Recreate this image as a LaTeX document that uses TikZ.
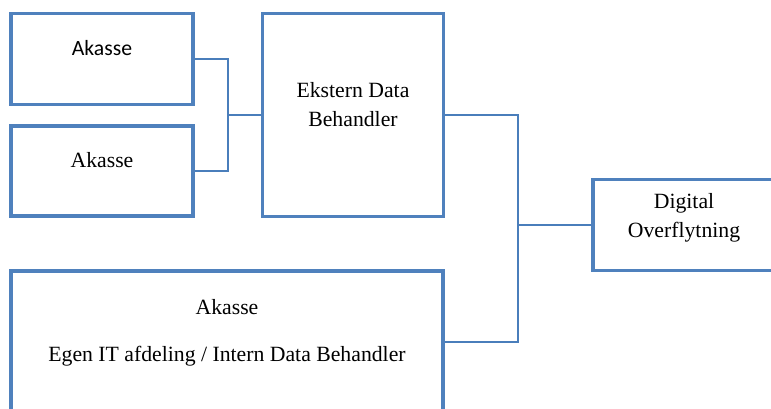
\documentclass[tikz,border=0pt]{standalone}
\usepackage{fontspec}
\setmainfont{Liberation Serif}
\newfontfamily\calib{Carlito}
\definecolor{boxblue}{HTML}{4F81BD}
\definecolor{lineblue}{HTML}{4A7EBB}
\begin{document}
\begin{tikzpicture}[x=0.75pt,y=-0.75pt,
  box/.style={draw=boxblue,line width=2.3pt,fill=white,inner sep=0pt,minimum width=#1},
  box/.default=182pt,
  conn/.style={draw=lineblue,line width=1pt},
  txt/.style={inner sep=0pt,align=center,font=\fontsize{16.3}{21.75}\selectfont}]
\useasboundingbox (0,0) rectangle (771,409);
\clip (0,0) rectangle (771,409);
% boxes
\node[box=136.5pt,minimum height=68.25pt] (a1) at (102,59) {};
\node[box=136.5pt,minimum height=67.5pt] (a2) at (102,171) {};
\node[box=135.75pt,minimum height=152.25pt] (ek) at (353,115) {};
\node[box=136.5pt,minimum height=68.25pt] (dig) at (684,225) {};
\node[box=324pt,minimum height=106.5pt] (bot) at (227,342) {};
% texts
\node[txt,font=\calib\fontsize{16.3}{21.75}\selectfont] (t1) at (102,48) {Akasse};
\node[txt] (t2) at (102,160.5) {Akasse};
\node[txt] (t3) at (353,105) {Ekstern Data\\Behandler};
\node[txt] (t4) at (684,218) {Digital\\Overflytning};
\node[txt] (t5) at (227,307) {Akasse};
\node[txt] (t6) at (227,356) {Egen IT afdeling / Intern Data Behandler};
% connectors
\coordinate (j1) at (228,115);
\coordinate (j2) at (518,225);
\draw[conn] (a1.east) -| (j1);
\draw[conn] (a2.east) -| (j1);
\draw[conn] (j1) -- (ek.west);
\draw[conn] (ek.east) -| (j2);
\draw[conn] (bot.east) -| (j2);
\draw[conn] (j2) -- (dig.west);
\end{tikzpicture}
\end{document}
